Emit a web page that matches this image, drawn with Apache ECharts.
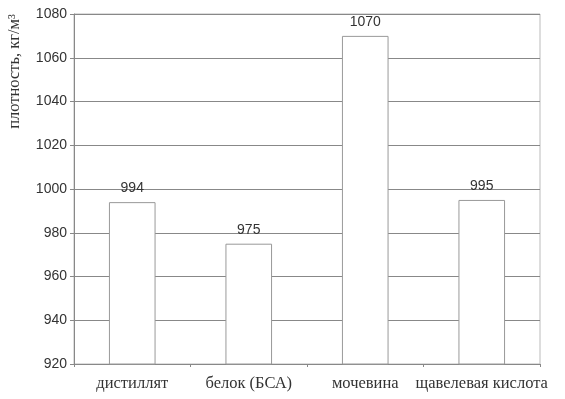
<!DOCTYPE html>
<html><head><meta charset="utf-8">
<script src="https://cdn.jsdelivr.net/npm/echarts@6/dist/echarts.min.js"></script>
<style>html,body{margin:0;padding:0;background:#fff;}#c{width:565px;height:399px;}</style>
</head><body><div id="c"></div>
<script>
const categories = ['дистиллят', 'белок (БСА)', 'мочевина', 'щавелевая кислота'];
const densities = [994, 975, 1070, 995];
const yAxisTitle = 'плотность, кг/м³';

const chart = echarts.init(document.getElementById('c'), null, {renderer: 'canvas'});
chart.setOption({
  animation: false,
  backgroundColor: '#fff',
  grid: {left: 74, right: 25, top: 14, bottom: 35, show: true, borderColor: '#bbb', borderWidth: 1},
  xAxis: {
    type: 'category', data: categories,
    axisLine: {lineStyle: {color: '#888', width: 1}},
    axisTick: {show: true, length: 3, lineStyle: {color: '#888'}},
    axisLabel: {interval: 0, fontFamily: 'Liberation Serif', fontSize: 16.5, color: '#333', margin: 11}
  },
  yAxis: {
    type: 'value', min: 920, max: 1080, interval: 20,
    axisLine: {show: true, lineStyle: {color: '#888'}},
    axisTick: {show: true, length: 4, lineStyle: {color: '#888'}},
    axisLabel: {fontFamily: 'Liberation Sans', fontSize: 14, color: '#333', margin: 7, formatter: v => String(v)},
    splitLine: {lineStyle: {color: '#888', width: 1}}
  },
  graphic: [{
    type: 'text', left: 6, top: 14, rotation: Math.PI / 2,
    style: {text: yAxisTitle, fontFamily: 'Liberation Serif', fontSize: 16.5, fill: '#333'}
  }],
  series: [{
    type: 'bar', data: densities, barWidth: '40%',
    itemStyle: {color: '#fff', borderColor: '#999', borderWidth: 1},
    label: {show: true, position: 'top', distance: 7, fontFamily: 'Liberation Sans', fontSize: 14, color: '#333'}
  }]
});
</script></body></html>
